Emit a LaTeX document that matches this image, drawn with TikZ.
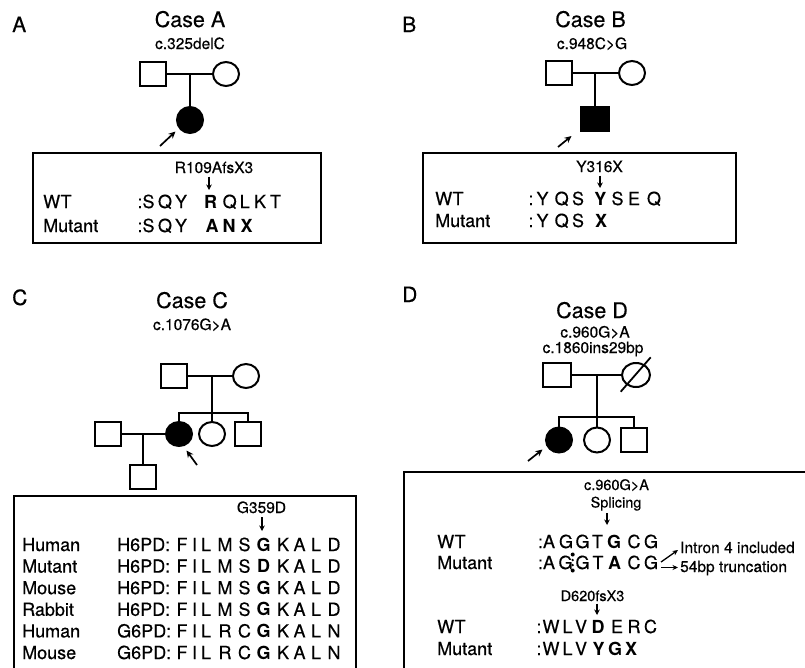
\documentclass[tikz,border=0pt]{standalone}
\usepackage{fontspec}
\setmainfont{TeX Gyre Heros}[UprightFeatures={FakeBold=0.4}]
\usetikzlibrary{shapes.geometric,arrows.meta}
\begin{document}
\begin{tikzpicture}[x=1pt,y=-1pt,
  ped/.style={line width=2pt},
  sq/.style={draw,line width=2pt,rectangle,minimum width=26pt,minimum height=24pt,inner sep=0pt},
  ci/.style={draw,line width=2pt,ellipse,minimum width=26pt,minimum height=24pt,inner sep=0pt},
  aff/.style={fill=black},
  panel/.style={font=\fontsize{21}{24}\selectfont,anchor=base west,inner sep=0pt},
  case/.style={font=\fontsize{21.5}{24}\selectfont,anchor=base,inner sep=0pt},
  mut/.style={font=\fontsize{15.5}{18}\selectfont,anchor=base,inner sep=0pt},
  lab/.style={font=\fontsize{18}{20}\selectfont,anchor=base west,inner sep=0pt},
  seq/.style={font=\fontsize{18}{20}\selectfont,anchor=base,inner sep=0pt},
  small/.style={font=\fontsize{15.5}{18}\selectfont,anchor=base,inner sep=0pt},
  smaller/.style={font=\fontsize{14.5}{16}\selectfont,anchor=base,inner sep=0pt},
  side/.style={font=\fontsize{15.5}{18}\selectfont,anchor=base west,inner sep=0pt},
  box/.style={draw,line width=2pt,inner sep=0pt},
  pointer/.style={line width=1.7pt,-{Stealth[length=7pt,width=6.5pt]}},
  down/.style={line width=1.5pt,-{Stealth[length=5.5pt,width=5.5pt]}},
  thinptr/.style={line width=1.3pt,-{Stealth[length=5.5pt,width=5pt]}},
]
\useasboundingbox (0,0) rectangle (805,667);
\clip (0,0) rectangle (805,667);
\fill[white] (0,0) rectangle (805,667);

% ================= Panel A =================
\node[panel] (lA) at (12,32) {A};
\node[case] (cA) at (190,27) {Case A};
\node[mut] (mA) at (190,49) {c.325delC};
\node[sq] (fA) at (153,74) {};
\node[ci] (moA) at (226,74) {};
\draw[ped] (fA) -- (moA);
\coordinate (jA) at (190,74);
\node[ci,aff,minimum width=26pt,minimum height=26pt] (pA) at (190,120) {};
\draw[ped] (jA) -- (pA.north);
\coordinate (aAt) at (160,146);
\coordinate (aAh) at (175.5,131.5);
\draw[pointer] (aAt) -- (aAh);
\node[box,minimum width=288pt,minimum height=90pt] (bA) at (177,198) {};
\node[small] (tA) at (214,173) {R109AfsX3};
\coordinate (dAt) at (209,176.5);
\coordinate (dAh) at (209,190);
\draw[down] (dAt) -- (dAh);
\node[lab] (wA) at (43,208) {WT};
\node[lab] (uA) at (43,232) {Mutant};
\foreach \x/\c [count=\i] in {140/:,148.5/S,165/Q,181/Y,210.5/\textbf{R},229.7/Q,244.7/L,260/K,275.5/T}
  {\node[seq] (aw\i) at (\x,208) {\c};}
\foreach \x/\c [count=\i] in {140/:,148.5/S,165/Q,181/Y,212/\textbf{A},229/\textbf{N},246.5/\textbf{X}}
  {\node[seq] (am\i) at (\x,232) {\c};}

% ================= Panel B =================
\node[panel] (lB) at (402,32) {B};
\node[case] (cB) at (590.5,27) {Case B};
\node[mut] (mB) at (592,49) {c.948C>G};
\node[sq] (fB) at (559,73) {};
\node[ci] (moB) at (632,73) {};
\draw[ped] (fB) -- (moB);
\coordinate (jB) at (595,73);
\node[sq,aff,minimum width=28pt] (pB) at (595,119) {};
\draw[ped] (jB) -- (pB.north);
\coordinate (aBt) at (558,147);
\coordinate (aBh) at (571.5,136);
\draw[pointer] (aBt) -- (aBh);
\node[box,minimum width=313pt,minimum height=90pt] (bB) at (579.5,198) {};
\node[small] (tB) at (599.5,172) {Y316X};
\coordinate (dBt) at (600,175.5);
\coordinate (dBh) at (600,188);
\draw[down] (dBt) -- (dBh);
\node[lab] (wB) at (435,205) {WT};
\node[lab] (uB) at (435,227) {Mutant};
\foreach \x/\c [count=\i] in {531/:,542.5/Y,561.7/Q,578/S,600.3/\textbf{Y},617.5/S,634/E,654/Q}
  {\node[seq] (bw\i) at (\x,205) {\c};}
\foreach \x/\c [count=\i] in {531/:,542.5/Y,561.7/Q,578/S,601/\textbf{X}}
  {\node[seq] (bm\i) at (\x,227) {\c};}

% ================= Panel C =================
\node[panel] (lC) at (12,305) {C};
\node[case] (cC) at (192,308) {Case C};
\node[mut] (mC) at (192,330) {c.1076G>A};
\node[sq] (gfC) at (174,376) {};
\node[ci] (gmC) at (246,376) {};
\draw[ped] (gfC) -- (gmC);
\coordinate (jC) at (212,376);
\coordinate (sC) at (212,413);
\coordinate (sCl) at (179,413);
\coordinate (sCr) at (248,413);
\draw[ped] (jC) -- (sC);
\draw[ped,line cap=rect] (sCl) -- (sCr);
\node[ci,aff] (pC) at (179,434) {};
\node[ci] (sisC) at (212,434) {};
\node[sq] (broC) at (248,434) {};
\draw[ped] (sCl) -- (pC.north);
\draw[ped] (sC) -- (sisC.north);
\draw[ped] (sCr) -- (broC.north);
\node[sq] (huC) at (108,434) {};
\draw[ped] (huC) -- (pC);
\coordinate (jC2) at (143,434);
\node[sq] (kC) at (143,477) {};
\draw[ped] (jC2) -- (kC.north);
\coordinate (aCt) at (197,465);
\coordinate (aCh) at (186.5,450.5);
\draw[pointer] (aCt) -- (aCh);
\node[box,minimum width=342pt,minimum height=200pt,anchor=north west] (bC) at (13,495) {};
\node[small] (tC) at (261.5,513) {G359D};
\coordinate (dCt) at (262,517);
\coordinate (dCh) at (262,531);
\draw[down] (dCt) -- (dCh);
\foreach \y/\sp/\gn/\m/\s/\g/\e [count=\r] in {
   551/Human/H6PD/M/S/G/D,
   572.6/Mutant/H6PD/M/S/D/D,
   594.2/Mouse/H6PD/M/S/G/D,
   615.8/Rabbit/H6PD/M/S/G/D,
   637.4/Human/G6PD/R/C/G/N,
   659/Mouse/G6PD/R/C/G/N}
 {
  \node[lab] (sp\r) at (22,\y) {\sp};
  \node[lab] (gn\r) at (117,\y) {\gn:};
  \foreach \x/\c [count=\i] in {182/F,194.5/I,206/L,225/\m,244.5/\s,263.5/\textbf{\g},283/K,299.5/A,316/L,334/\e}
    {\node[seq] (c\r-\i) at (\x,\y) {\c};}
 }

% ================= Panel D =================
\node[panel] (lD) at (402,302) {D};
\node[case] (cD) at (592,318) {Case D};
\node[mut] (mD1) at (595,337.5) {c.960G>A};
\node[mut] (mD2) at (593,353) {c.1860ins29bp};
\node[sq,minimum width=28pt] (fD) at (557,375) {};
\node[ci,minimum width=28pt] (moD) at (636,375) {};
\draw[ped] (fD) -- (moD);
\coordinate (slD1) at (620.7,391.7);
\coordinate (slD2) at (650.7,357.3);
\draw[ped,line width=1.8pt] (slD1) -- (slD2);
\coordinate (jD) at (597,375);
\coordinate (sD) at (597,417);
\coordinate (sDl) at (559,417);
\coordinate (sDr) at (634,417);
\draw[ped] (jD) -- (sD);
\draw[ped,line cap=rect] (sDl) -- (sDr);
\node[ci,aff,minimum height=25pt] (pD) at (559,440) {};
\node[ci,minimum height=25pt] (sisD) at (597,440) {};
\node[sq] (broD) at (634,440) {};
\draw[ped] (sDl) -- (pD.north);
\draw[ped] (sD) -- (sisD.north);
\draw[ped] (sDr) -- (broD.north);
\coordinate (aDt) at (528,461);
\coordinate (aDh) at (542.5,449.5);
\draw[pointer] (aDt) -- (aDh);
\node[box,minimum width=420pt,minimum height=220pt,anchor=north west] (bD) at (403,471) {};
\node[smaller] (tD1) at (616.5,490) {c.960G>A};
\node[smaller] (tD2) at (616,507.5) {Splicing};
\coordinate (dD1t) at (607,513);
\coordinate (dD1h) at (607,525);
\draw[down] (dD1t) -- (dD1h);
\node[lab] (wD1) at (437,548) {WT};
\node[lab] (uD1) at (437,569) {Mutant};
\foreach \x/\c [count=\i] in {540.5/:,549/A,566/G,582.5/G,597.5/T,614/\textbf{G},634/C,651/G}
  {\node[seq] (dw\i) at (\x,548) {\c};}
\foreach \x/\c [count=\i] in {540.5/:,549/A,565.5/G,582.5/G,598/T,614.5/\textbf{A},634/C,651/G}
  {\node[seq] (dm\i) at (\x,569) {\c};}
\fill (572.7,554.5) circle (2pt);
\fill (572.7,560) circle (1.3pt);
\fill (572.7,565) circle (1.3pt);
\fill (572.7,570.5) circle (2pt);
\coordinate (iDt) at (661,562);
\coordinate (iDh) at (678,550);
\coordinate (tDt) at (661,567.5);
\coordinate (tDh) at (678,567.5);
\draw[thinptr] (iDt) -- (iDh);
\draw[thinptr] (tDt) -- (tDh);
\node[side] (inD) at (680,553) {Intron 4 included};
\node[side] (trD) at (680,572) {54bp truncation};
\node[smaller] (tD3) at (592.5,601) {D620fsX3};
\coordinate (dD2t) at (597,603.5);
\coordinate (dD2h) at (597,615);
\draw[down] (dD2t) -- (dD2h);
\node[lab] (wD2) at (437,633) {WT};
\node[lab] (uD2) at (437,655) {Mutant};
\foreach \x/\c [count=\i] in {539/:,551/W,567.5/L,581/V,598/\textbf{D},617/E,634/R,650.5/C}
  {\node[seq] (ew\i) at (\x,633) {\c};}
\foreach \x/\c [count=\i] in {539/:,551/W,567.5/L,581/V,598.5/\textbf{Y},615/\textbf{G},631/\textbf{X}}
  {\node[seq] (em\i) at (\x,655) {\c};}
\end{tikzpicture}
\end{document}
